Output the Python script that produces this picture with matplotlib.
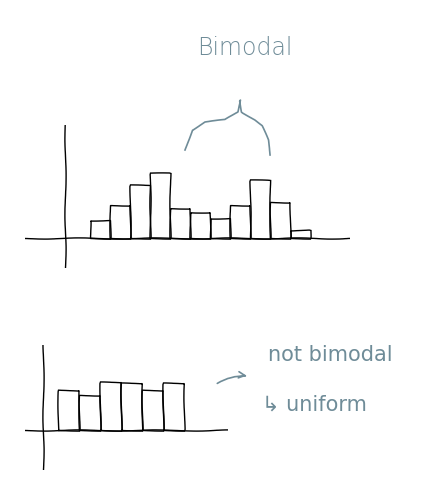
import matplotlib
matplotlib.use("Agg")
import matplotlib.pyplot as plt
from matplotlib.patches import FancyArrowPatch

# bar heights (pixel-ish units above the baseline)
bimodal_heights = [18, 33, 53, 65, 30, 26, 20, 33, 58, 36, 8]
uniform_heights = [40, 35, 48, 47, 40, 47]
top_label = "Bimodal"
bottom_labels = ["not bimodal", "↳ uniform"]

INK = "black"
NOTE = "#6f8c98"
W, H = 441, 484

plt.xkcd(scale=0.6, length=80, randomness=2)
plt.rcParams["font.family"] = ["DejaVu Sans"]
plt.rcParams["path.effects"] = []

fig = plt.figure(figsize=(W / 100, H / 100), dpi=100)
fig.patch.set_facecolor("white")


def px_axes(x0, y0, x1, y1):
    return fig.add_axes([x0 / W, 1 - y1 / H, (x1 - x0) / W, (y1 - y0) / H])


def sketch_hist(ax, heights, xlim, ylim, yaxis_x):
    ax.bar(range(len(heights)), heights, width=1.0, fill=False,
           edgecolor=INK, linewidth=1.0)
    ax.axhline(0, color=INK, linewidth=1.0)
    ax.axvline(yaxis_x, color=INK, linewidth=1.0)
    ax.set_xlim(*xlim)
    ax.set_ylim(*ylim)
    ax.axis("off")


top = px_axes(25, 125, 350, 268)
sketch_hist(top, bimodal_heights, (-3.75, 12.5), (-30, 113), -1.75)

bottom = px_axes(25, 345, 228, 470)
sketch_hist(bottom, uniform_heights, (-2.07, 7.6), (-40, 85), -1.21)

# curly bracket over the two humps
overlay = fig.add_axes([0, 0, 1, 1])
overlay.set_xlim(0, W)
overlay.set_ylim(H, 0)
overlay.axis("off")
brace_x = [185, 192, 205, 225, 238, 240, 242, 255, 262, 268, 270]
brace_y = [150, 130, 122, 120, 112, 100, 112, 120, 126, 140, 155]
overlay.plot(brace_x, brace_y, color=NOTE, linewidth=1.2)
overlay.text(245, 48, top_label, color=NOTE, fontsize=17,
             ha="center", va="center", fontweight="light")

overlay.add_patch(FancyArrowPatch((215, 385), (250, 376),
                                  arrowstyle="->", mutation_scale=12,
                                  color=NOTE, linewidth=1.2,
                                  connectionstyle="arc3,rad=-0.2"))
overlay.text(268, 355, bottom_labels[0], color=NOTE, fontsize=15,
             ha="left", va="center")
overlay.text(262, 405, bottom_labels[1], color=NOTE, fontsize=15,
             ha="left", va="center")

fig.savefig("out.png", dpi=100, facecolor="white")
